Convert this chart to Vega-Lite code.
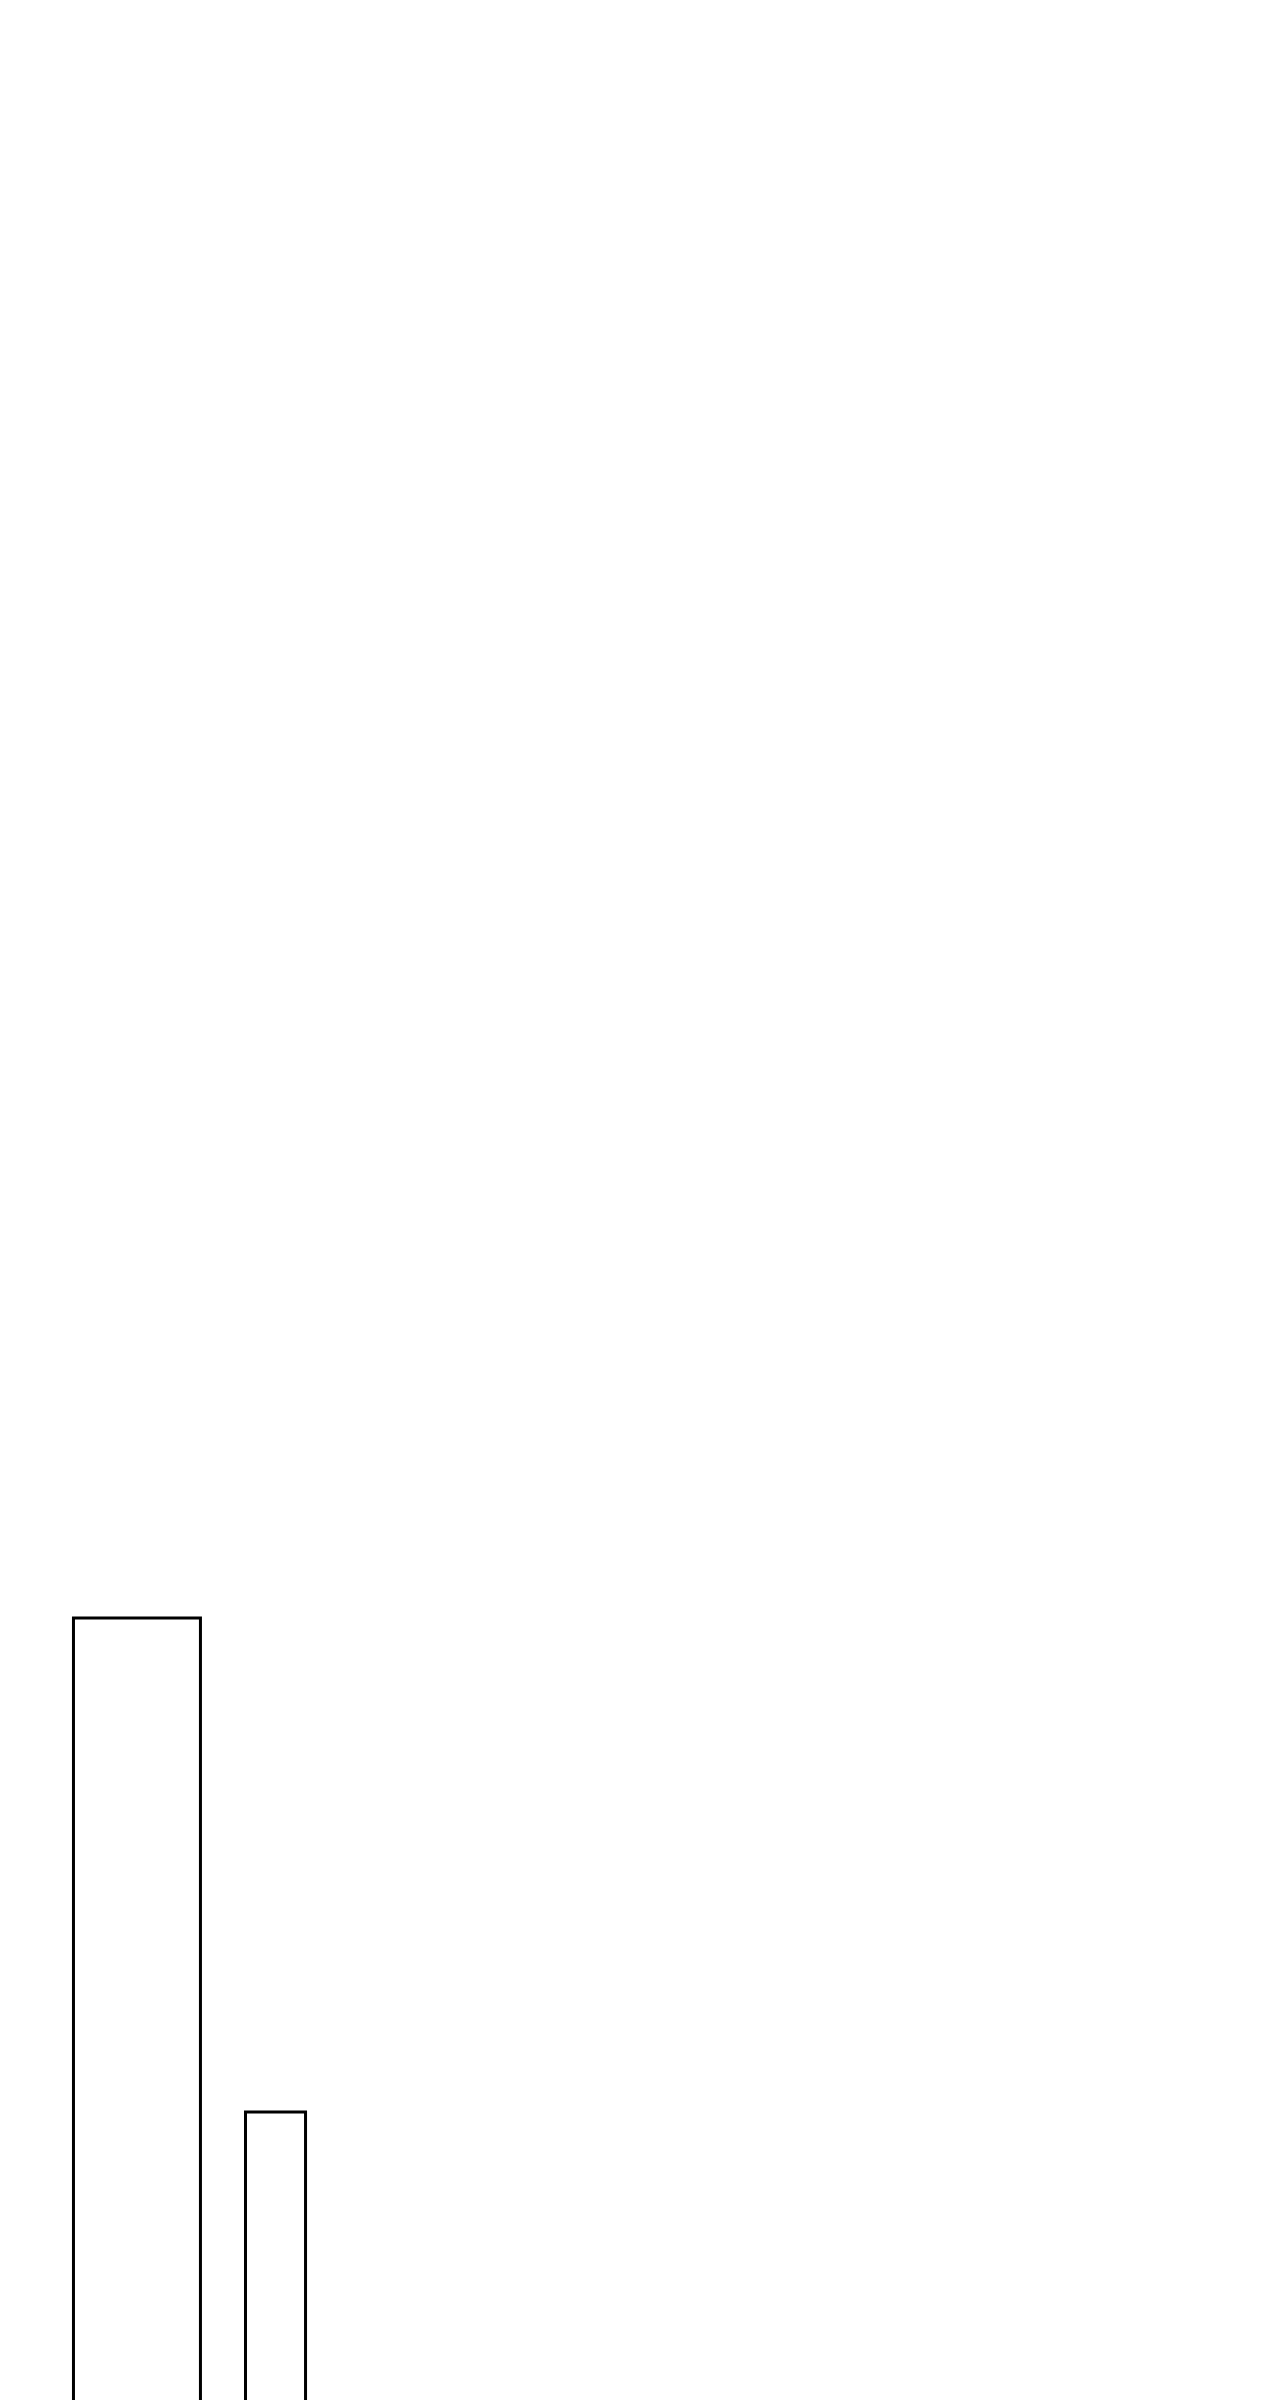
{
  "$schema": "https://vega.github.io/schema/vega-lite/v6.json",
  "width": 1280,
  "height": 3000,
  "autosize": {"type": "none"},
  "padding": 0,
  "background": "white",
  "data": {
    "values": [
      {"name": "A", "start": 5.74, "end": 15.66, "value": 46.07},
      {"name": "B", "start": 19.18, "end": 23.87, "value": 29.6}
    ]
  },
  "mark": {"type": "bar", "fill": "white", "stroke": "black", "strokeWidth": 3, "clip": false},
  "encoding": {
    "x": {"field": "start", "type": "quantitative", "scale": {"domain": [0, 100], "nice": false, "zero": false}, "axis": null},
    "x2": {"field": "end"},
    "y": {"field": "value", "type": "quantitative", "scale": {"domain": [0, 100], "nice": false}, "axis": null},
    "y2": {"datum": 0}
  },
  "config": {"view": {"stroke": null}}
}
